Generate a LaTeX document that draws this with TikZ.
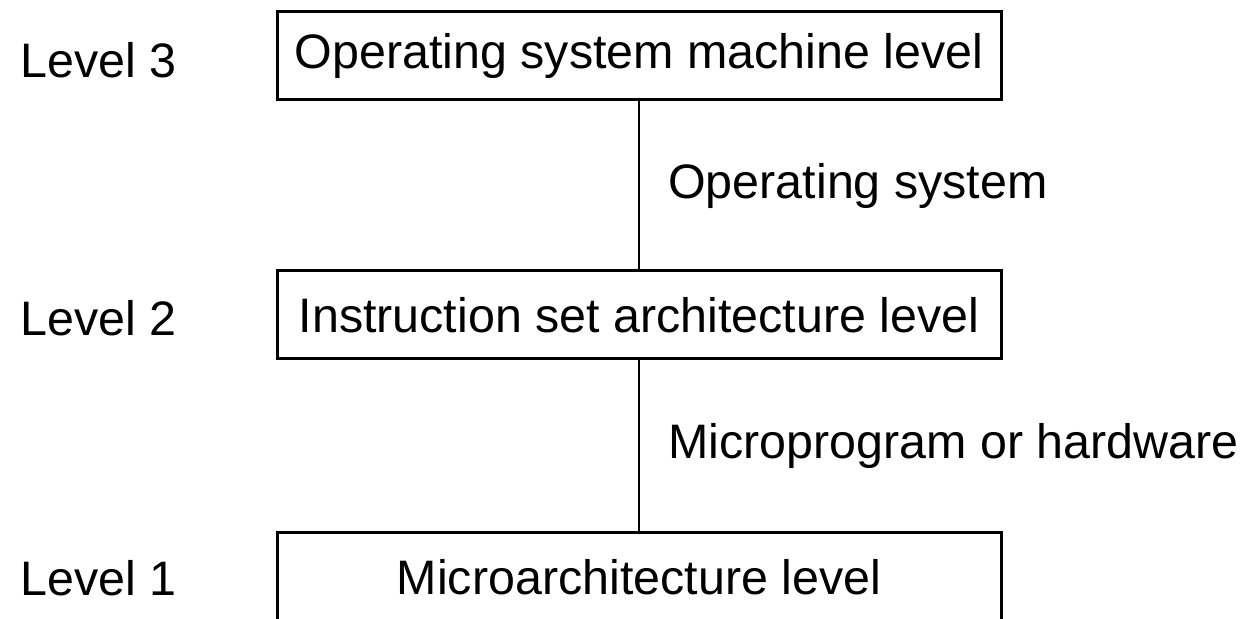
\documentclass[tikz,border=0pt]{standalone}
\usepackage{fontspec}
\setmainfont{Liberation Sans}
\usepackage{tikz}

\begin{document}
\begin{tikzpicture}[x=0.5pt, y=-0.5pt,
    every node/.style={font=\fontsize{24.2}{28}\selectfont},
    levelbox/.style={draw, line width=1.5pt, minimum width=362pt, minimum height=44pt, inner sep=0pt},
    levelname/.style={anchor=west, inner sep=0pt},
    tool/.style={anchor=west, inner sep=0pt, xshift=14pt}]
\clip (0,0) rectangle (1255,619);
\fill[white] (0,0) rectangle (1255,619);
% the three machine levels
\node[levelbox] (lvl3) at (639,56) {Operating system machine level};
\node[levelbox] (lvl2) at (639,315) {Instruction set architecture level};
\node[levelbox] (lvl1) at (639,577) {Microarchitecture level};
% names on the left
\node[levelname] (name3) at (20,60) {Level 3};
\node[levelname] (name2) at (20,318) {Level 2};
\node[levelname] (name1) at (20,578) {Level 1};
% what turns one level into the next
\draw[line width=1.3pt] (lvl3) -- node[tool] (os) {Operating system} (lvl2);
\draw[line width=1.3pt] (lvl2) -- node[tool] (hw) {Microprogram or hardware} (lvl1);
\end{tikzpicture}
\end{document}
